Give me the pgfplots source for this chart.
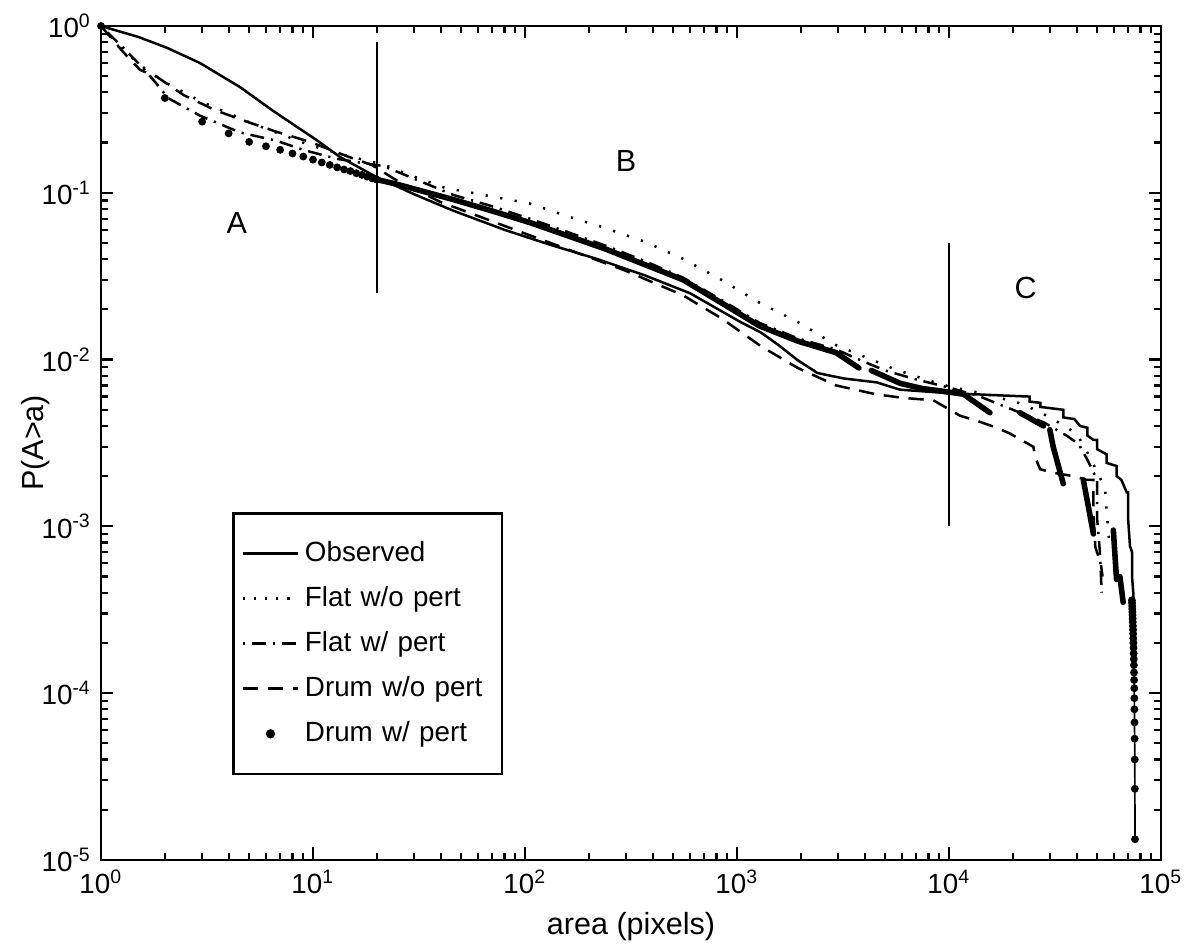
\documentclass[border=0pt]{standalone}
\usepackage{fontspec}
\setmainfont{Liberation Sans}
\usepackage{pgfplots}
\pgfplotsset{compat=1.18}
\begin{document}
\begin{tikzpicture}
\begin{axis}[
  scale only axis, width=381.6pt, height=300.2pt,
  xmode=log, ymode=log, xmin=1, xmax=1e5, ymin=1e-5, ymax=1,
  axis line style={line width=0.9pt},
  every tick/.style={black, line width=0.8pt},
  major tick length=4.5pt, minor tick length=2.5pt,
  xtick={1,10,100,1000,10000,100000},
  xticklabels={10\textsuperscript{0},10\textsuperscript{1},10\textsuperscript{2},10\textsuperscript{3},10\textsuperscript{4},10\textsuperscript{5}},
  ytick={1e-5,1e-4,1e-3,1e-2,1e-1,1},
  yticklabels={10\textsuperscript{-5},10\textsuperscript{-4},10\textsuperscript{-3},10\textsuperscript{-2},10\textsuperscript{-1},10\textsuperscript{0}},
  minor xtick={2,3,4,5,6,7,8,9,20,30,40,50,60,70,80,90,200,300,400,500,600,700,800,900,2000,3000,4000,5000,6000,7000,8000,9000,20000,30000,40000,50000,60000,70000,80000,90000},
  minor ytick={2e-5,3e-5,4e-5,5e-5,6e-5,7e-5,8e-5,9e-5,2e-4,3e-4,4e-4,5e-4,6e-4,7e-4,8e-4,9e-4,2e-3,3e-3,4e-3,5e-3,6e-3,7e-3,8e-3,9e-3,2e-2,3e-2,4e-2,5e-2,6e-2,7e-2,8e-2,9e-2,0.2,0.3,0.4,0.5,0.6,0.7,0.8,0.9},
  ticklabel style={font=\fontsize{10}{12}\selectfont},
  xlabel={area (pixels)}, ylabel={P(A>a)},
  label style={font=\fontsize{11}{13}\selectfont},
  ylabel style={at={(axis description cs:-0.062,0.5)}, anchor=center},
  legend style={at={(0.1236,0.417)}, anchor=north west, draw=black, line width=0.9pt,
    font=\fontsize{10}{12}\selectfont, inner xsep=3pt, inner ysep=8pt, row sep=3.5pt,
    nodes={text width=66pt, align=left}},
  legend cell align=left,
  legend image code/.code={\draw[#1] (0cm,0cm) -- (0.7cm,0cm);},
]
\addlegendimage{black, line width=0.9pt}
\addlegendentry{Observed}
\addlegendimage{black, line width=0.9pt, dash pattern=on 0.8pt off 3.2pt}
\addlegendentry{Flat w/o pert}
\addlegendimage{black, line width=0.9pt, dash pattern=on 0.8pt off 2.5pt on 5pt off 2.5pt}
\addlegendentry{Flat w/ pert}
\addlegendimage{black, line width=0.9pt, dash pattern=on 5.5pt off 3.5pt}
\addlegendentry{Drum w/o pert}
\addlegendimage{legend image code/.code={\fill[black] (0.35cm,0cm) circle (1.2pt);}}
\addlegendentry{Drum w/ pert}

% region boundaries
\addplot[black, line width=0.9pt, forget plot] coordinates {(20,0.8) (20,0.025)};
\addplot[black, line width=0.9pt, forget plot] coordinates {(10000,0.05) (10000,0.001)};

% Observed
\addplot[black, line width=0.9pt, forget plot] coordinates {
(1,1) (1.5,0.86) (2.05,0.74) (2.93,0.60) (4.53,0.43) (6.48,0.31) (10.4,0.207) (13.4,0.164) (20,0.124)
(30,0.098) (46,0.078) (80,0.060) (130,0.049) (220,0.040) (367,0.032) (600,0.025) (1038,0.0168)
(1300,0.0145) (1571,0.0122) (1936,0.0099) (2400,0.0083) (3200,0.0077) (4560,0.0073) (5870,0.0066)
(9750,0.0063) (17400,0.0061) (24000,0.0060) (24000,0.0056) (27000,0.0055) (27000,0.0052)
(34600,0.0050) (34600,0.0045) (39000,0.0044) (41500,0.0040) (45000,0.0039) (45000,0.0035)
(48000,0.0033) (50000,0.0033) (50000,0.0029) (55400,0.0027) (55400,0.0024) (61800,0.0023)
(61800,0.0020) (65000,0.0019) (68900,0.0016) (70000,0.0016) (70000,0.0011) (71400,0.00076)
(73000,0.0007) (73000,0.0005) (74000,0.0004) (74000,0.00033)};

% Flat w/o pert
\addplot[black, line width=0.9pt, dash pattern=on 0.8pt off 4.5pt, forget plot] coordinates {
(1,1) (1.3,0.7) (1.6,0.56) (2,0.46) (3,0.35) (4,0.3) (5,0.265) (7,0.225) (10,0.19) (15,0.165)
(21.7,0.147) (30,0.125) (42,0.107) (70,0.095) (105,0.0863) (160,0.072) (242,0.0612) (367,0.0509)
(556,0.0402) (843,0.0301) (1277,0.0219) (1936,0.0168) (2933,0.0122) (3920,0.0105) (5500,0.0088)
(7500,0.0077) (10000,0.0069) (15000,0.0062) (22400,0.0054) (30000,0.0045) (40000,0.0036)
(46200,0.0026) (54400,0.0017) (55500,0.0012) (57000,0.0008)};

% Flat w/ pert
\addplot[black, line width=0.9pt, dash pattern=on 0.8pt off 2.5pt on 5pt off 2.5pt, forget plot] coordinates {
(1,1) (1.3,0.72) (1.6,0.55) (1.83,0.45) (2.07,0.37) (2.93,0.29) (4.53,0.23) (6.74,0.205) (8.98,0.181)
(12.9,0.16) (17.7,0.15) (21.3,0.145) (25.6,0.132) (46,0.097) (70,0.083) (105,0.070) (160,0.058)
(242,0.048) (367,0.039) (556,0.031) (843,0.0228) (1277,0.0166) (1936,0.0134) (2933,0.0115)
(3900,0.0098) (5000,0.0086) (7000,0.0076) (10000,0.0068) (14000,0.0060) (20000,0.0050)
(28000,0.0042) (35900,0.0035) (41000,0.0031) (45000,0.0025) (50000,0.0019) (50000,0.0011)
(51500,0.0007) (52500,0.0004)};

% Drum w/o pert
\addplot[black, line width=0.9pt, dash pattern=on 5.5pt off 3.5pt, forget plot] coordinates {
(1,1) (1.27,0.70) (1.53,0.545) (1.83,0.497) (2.45,0.386) (3.45,0.313) (4.87,0.267) (6.74,0.232)
(9.68,0.202) (14.4,0.166) (18.9,0.147) (25,0.118) (40,0.088) (100,0.057) (300,0.034) (556,0.0243)
(843,0.0177) (1300,0.012) (1936,0.0089) (2933,0.0070) (4500,0.0062) (6000,0.0059) (8430,0.0057)
(11300,0.0046) (13500,0.0043) (16800,0.0039) (19400,0.0036) (25000,0.0030) (25500,0.0026)
(26900,0.0022) (30900,0.0021) (38500,0.0020) (44600,0.0019) (48000,0.0019) (48000,0.0012)
(49000,0.00075) (52000,0.0006) (53000,0.0005)};

% Drum w/ pert: sparse dots
\addplot[only marks, mark=*, mark size=1.2pt, black, forget plot] coordinates {
(1,1) (2,0.37) (3,0.267) (4,0.227) (5,0.202) (6,0.19) (7,0.181) (8,0.172) (9,0.165) (10,0.158)
(11,0.152) (12,0.147) (13,0.142) (14,0.138) (15,0.135) (16,0.131) (17,0.128) (18,0.125) (19,0.122) (20,0.12)};
% Drum w/ pert: dense runs of dots
\addplot[black, line width=2pt, line cap=round, forget plot] coordinates {
(20,0.12) (24.6,0.113) (46,0.091) (70,0.0778) (105,0.0664) (160,0.0551) (242,0.0458) (367,0.0371)
(556,0.0301) (843,0.0219) (1277,0.0159) (1936,0.0129) (2933,0.0110) (3760,0.0089)};
\addplot[black, line width=2pt, line cap=round, forget plot] coordinates {
(4300,0.0086) (5890,0.0072) (7500,0.0067) (9000,0.0065) (11700,0.0062) (15600,0.0048)};
\addplot[black, line width=2pt, line cap=round, forget plot] coordinates {(21600,0.0048) (27900,0.0040)};
\addplot[black, line width=2pt, line cap=round, forget plot] coordinates {(29900,0.0038) (31000,0.0030) (34600,0.0018)};
\addplot[black, line width=2pt, line cap=round, forget plot] coordinates {(43000,0.0019) (45000,0.0014) (48000,0.0009)};
\addplot[black, line width=2pt, line cap=round, forget plot] coordinates {(59600,0.00095) (61700,0.00048)};
\addplot[black, line width=2pt, line cap=round, forget plot] coordinates {(64000,0.0005) (66300,0.00035)};
% Drum w/ pert: tail
\addplot[black, line width=0.6pt, mark=*, mark size=1.1pt, forget plot] coordinates {
(72900,3.6e-4) (73000,3.47e-4) (73100,3.33e-4) (73200,3.2e-4) (73300,3.07e-4) (73400,2.93e-4)
(73500,2.8e-4) (73600,2.67e-4) (73700,2.53e-4) (73800,2.4e-4) (73900,2.27e-4) (74000,2.13e-4)
(74100,2.0e-4) (74200,1.87e-4) (74300,1.73e-4) (74400,1.6e-4) (74500,1.47e-4) (74600,1.33e-4)
(74700,1.2e-4) (74800,1.07e-4) (74850,9.33e-5) (74900,8.0e-5) (75000,6.67e-5) (75100,5.33e-5)
(75200,4.0e-5) (75300,2.67e-5) (75400,1.33e-5)};

\node[font=\fontsize{11}{13}\selectfont] at (axis cs:4.37,0.066) {A};
\node[font=\fontsize{11}{13}\selectfont] at (axis cs:300,0.155) {B};
\node[font=\fontsize{11}{13}\selectfont] at (axis cs:23000,0.027) {C};
\end{axis}
\pgfresetboundingbox
\path ([xshift=-36.36pt,yshift=-31.32pt]current axis.south west) rectangle ([xshift=10.08pt,yshift=9.36pt]current axis.north east);
\end{tikzpicture}
\end{document}
